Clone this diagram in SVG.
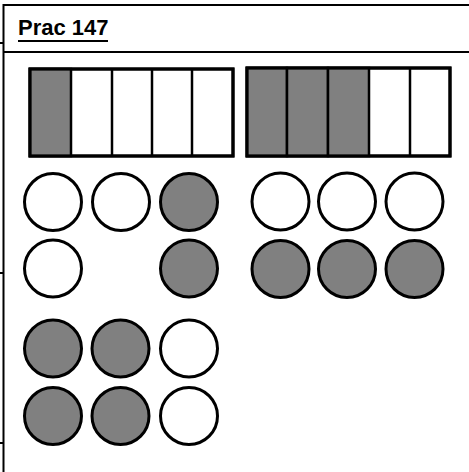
<svg xmlns="http://www.w3.org/2000/svg" width="469" height="472" viewBox="0 0 469 472">
<style>
.frame{stroke:#000;stroke-width:2;fill:none}
.bar{stroke:#000;stroke-width:3;fill:#fff}
.cell{stroke:#000;stroke-width:2.5}
.on{fill:#808080}
.off{fill:#fff}
.dot{stroke:#000;stroke-width:3}
.title{font-family:"Liberation Sans",Arial,sans-serif;font-weight:bold;font-size:22px;fill:#000}
</style>
<rect width="469" height="472" fill="#fff"/>
<g id="frame">
<line class="frame" x1="3.5" y1="5" x2="469" y2="5"/>
<line class="frame" x1="3.5" y1="52" x2="469" y2="52"/>
<line class="frame" x1="3.5" y1="4" x2="3.5" y2="472"/>
<line class="frame" x1="0" y1="43" x2="4" y2="43"/>
<line class="frame" x1="0" y1="273" x2="4" y2="273"/>
<line class="frame" x1="0" y1="443" x2="4" y2="443"/>
</g>
<g id="title">
<text class="title" x="18" y="35">Prac 147</text>
<line x1="18" y1="41" x2="108" y2="41" stroke="#000" stroke-width="2"/>
</g>
<g id="bar1">
<rect class="bar" x="30" y="69" width="203" height="87"/>
<rect class="cell on" x="30" y="69" width="41" height="87"/>
<line class="cell" x1="112" y1="69" x2="112" y2="156"/>
<line class="cell" x1="152" y1="69" x2="152" y2="156"/>
<line class="cell" x1="192" y1="69" x2="192" y2="156"/>
<rect x="30" y="69" width="203" height="87" fill="none" stroke="#000" stroke-width="3"/>
</g>
<g id="bar2">
<rect class="bar" x="247" y="68" width="203" height="88"/>
<rect class="cell on" x="247" y="68" width="40" height="88"/>
<rect class="cell on" x="287" y="68" width="41" height="88"/>
<rect class="cell on" x="328" y="68" width="41" height="88"/>
<line class="cell" x1="410" y1="68" x2="410" y2="156"/>
<rect x="247" y="68" width="203" height="88" fill="none" stroke="#000" stroke-width="3"/>
</g>
<g id="group1">
<circle class="dot off" cx="53" cy="202" r="28.5"/>
<circle class="dot off" cx="121" cy="202" r="28.5"/>
<circle class="dot on" cx="189" cy="202" r="28.5"/>
<circle class="dot off" cx="53" cy="268.5" r="28.5"/>
<circle class="dot on" cx="189" cy="268.5" r="28.5"/>
</g>
<g id="group2">
<circle class="dot off" cx="280.5" cy="201.5" r="28.5"/>
<circle class="dot off" cx="347" cy="201.5" r="28.5"/>
<circle class="dot off" cx="414.5" cy="201.5" r="28.5"/>
<circle class="dot on" cx="280.5" cy="269" r="28.5"/>
<circle class="dot on" cx="347" cy="269" r="28.5"/>
<circle class="dot on" cx="414.5" cy="269" r="28.5"/>
</g>
<g id="group3">
<circle class="dot on" cx="53" cy="348.5" r="28.5"/>
<circle class="dot on" cx="120.5" cy="348.5" r="28.5"/>
<circle class="dot off" cx="189" cy="348.5" r="28.5"/>
<circle class="dot on" cx="53" cy="416" r="28.5"/>
<circle class="dot on" cx="120.5" cy="416" r="28.5"/>
<circle class="dot off" cx="189" cy="416" r="28.5"/>
</g>
</svg>
